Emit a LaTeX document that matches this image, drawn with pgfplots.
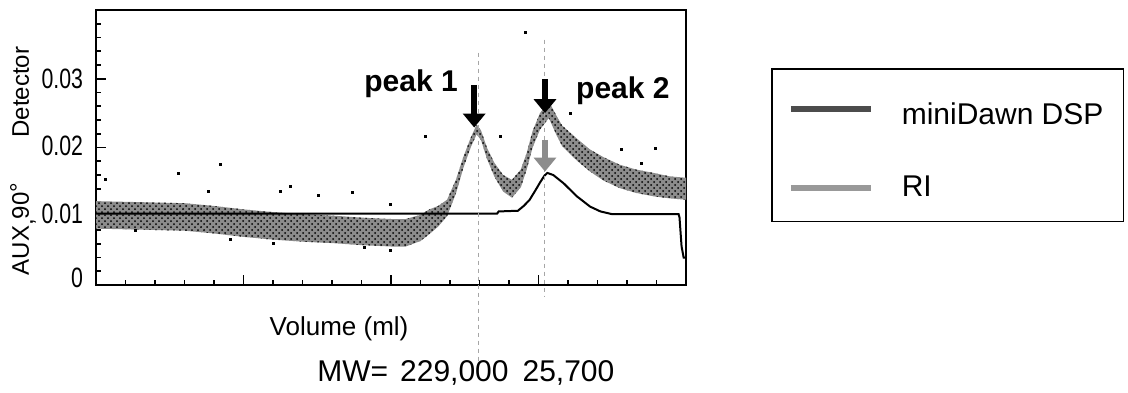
\documentclass[border=0pt]{standalone}
\usepackage{pgfplots}
\pgfplotsset{compat=1.18}
\usepackage{pgfplotstable}
\usepgfplotslibrary{fillbetween}
\usetikzlibrary{arrows.meta,patterns}
\usepackage{fontspec}
\setmainfont{Liberation Sans}
\newfontfamily\narrowfont[FakeStretch=0.76]{Liberation Sans}

% miniDawn DSP (90 degree light scattering): noise band envelope
\pgfplotstableread{
x lo hi
0 0.0082 0.0122
1 0.0081 0.0121
2 0.0080 0.0120
3 0.0079 0.0119
4 0.0075 0.0115
5 0.0070 0.0110
6 0.0066 0.0106
7 0.0063 0.0103
8 0.0061 0.0101
9 0.0058 0.0098
10 0.0056 0.0096
10.5 0.0056 0.0096
11 0.0064 0.0102
11.3 0.0074 0.0110
11.6 0.0085 0.0115
11.9 0.0100 0.0124
12.2 0.0133 0.0153
12.45 0.0170 0.0186
12.7 0.0200 0.0214
12.9 0.0219 0.0233
13.05 0.0211 0.0225
13.25 0.0184 0.0200
13.5 0.0158 0.0178
13.8 0.0136 0.0160
14.1 0.0127 0.0153
14.4 0.0142 0.0168
14.6 0.0168 0.0192
14.8 0.0200 0.0224
15.05 0.0226 0.0250
15.35 0.0243 0.0267
15.6 0.0219 0.0247
15.8 0.0202 0.0232
16.3 0.0181 0.0213
16.75 0.0165 0.0197
17.2 0.0152 0.0186
17.75 0.0141 0.0175
18.3 0.0134 0.0168
18.9 0.0129 0.0163
19.45 0.0126 0.0158
20 0.0124 0.0156
}\dawntable

% stray miniDawn points
\pgfplotstableread{
x y
0.31 0.0154
1.32 0.0080
2.79 0.0163
3.80 0.0136
4.20 0.0175
4.54 0.0066
6.00 0.0061
6.24 0.0136
6.58 0.0143
7.53 0.0131
8.70 0.0134
9.10 0.0055
9.97 0.0051
9.97 0.0117
11.15 0.0216
13.70 0.0216
14.54 0.0367
16.07 0.0250
17.82 0.0197
18.50 0.0177
18.95 0.0199
}\straytable

% RI detector
\pgfplotstableread{
x y
0 0.0104
13.60 0.0104
13.65 0.0107
14.30 0.0108
14.50 0.0115
14.70 0.0124
14.90 0.0138
15.05 0.0149
15.20 0.0159
15.30 0.0163
15.50 0.0160
15.85 0.0148
16.30 0.0129
16.75 0.0114
17.10 0.0107
17.50 0.0103
19.75 0.0103
19.78 0.0098
19.85 0.0056
19.92 0.0040
20 0.0040
}\ritable

\begin{document}
\begin{tikzpicture}
\begin{axis}[
  at={(0,0)}, anchor=south west,
  width=295pt, height=137.5pt, scale only axis,
  xmin=0, xmax=20, ymin=0, ymax=0.04,
  clip=false,
  scaled y ticks=false,
  axis line style={black, line width=1pt},
  tick pos=left, tick align=inside,
  major tick length=5pt, minor tick length=2.5pt,
  every tick/.style={black, line width=0.8pt},
  xtick={0,5,10,15,20}, minor x tick num=4, xticklabels={},
  ytick={0,0.01,0.02,0.03},
  minor ytick={0.002,0.004,0.006,0.008,0.012,0.014,0.016,0.018,0.022,0.024,0.026,0.028,0.032,0.034,0.036,0.038},
  yticklabels={\raisebox{7.5pt}{0},\raisebox{2.5pt}{0.01},\raisebox{1.5pt}{0.02},0.03},
  yticklabel style={font=\narrowfont\fontsize{14}{14}\selectfont, xshift=-3pt},
  ylabel={AUX\raisebox{-2pt}{,}90\raisebox{1pt}{°}\hspace{1.9em}Detector},
  ylabel style={at={(axis description cs:-0.1237,0.451)}, anchor=center, font=\fontsize{12}{13}\selectfont},
  legend image code/.code={\draw[#1] (0pt,0pt) -- (40pt,0pt);},
  legend cell align=left,
  legend style={at={(axis description cs:1.144,0.789)}, anchor=north west,
    draw=black, line width=0.8pt, font=\fontsize{15}{18}\selectfont,
    inner xsep=8pt, inner ysep=9pt, row sep=20pt,
    /tikz/every odd column/.append style={column sep=12pt}},
]
\addlegendimage{black!70, line width=3pt}
\addlegendentry{\rule{0pt}{17pt}miniDawn DSP}
\addlegendimage{black!40, line width=3pt}
\addlegendentry{RI}

\addplot[name path=dlo, draw=none, forget plot] table[x=x, y=lo] {\dawntable};
\addplot[name path=dhi, draw=none, forget plot] table[x=x, y=hi] {\dawntable};
\addplot[fill=black!45, draw=none, forget plot] fill between[of=dlo and dhi];
\addplot[pattern=crosshatch dots, pattern color=black, draw=none, forget plot] fill between[of=dlo and dhi];
\addplot[only marks, mark=square*, mark size=0.5pt, black, forget plot] table[x=x, y=y] {\straytable};

\addplot[black, line width=1pt, forget plot] table[x=x, y=y] {\ritable};

% peak markers
\draw[gray!70, line width=0.5pt, dash pattern=on 2pt off 2pt] (axis cs:12.98,0.0338) -- (axis cs:12.98,-0.0119);
\draw[gray!70, line width=0.5pt, dash pattern=on 2pt off 2pt] (axis cs:15.19,0.0357) -- (axis cs:15.19,-0.0017);
\draw[black, line width=3pt, -{Triangle[width=11pt,length=7pt]}] (axis cs:12.82,0.0291) -- (axis cs:12.82,0.0229);
\draw[black, line width=3pt, -{Triangle[width=11pt,length=7pt]}] (axis cs:15.22,0.0299) -- (axis cs:15.22,0.0250);
\draw[black!45, line width=3pt, -{Triangle[width=11pt,length=7pt]}] (axis cs:15.22,0.0211) -- (axis cs:15.22,0.0165);
\node[anchor=base, font=\bfseries\fontsize{15}{18}\selectfont] at (axis cs:10.68,0.0282) {peak 1};
\node[anchor=base, font=\bfseries\fontsize{15}{18}\selectfont] at (axis cs:17.86,0.0272) {peak 2};

\node[font=\fontsize{13}{15}\selectfont] at (axis cs:8.24,-0.0063) {Volume (ml)};
\node[anchor=base west, font=\fontsize{15}{17}\selectfont, inner sep=0pt] at (axis cs:7.49,-0.0140) {MW=\hspace{0.4em}229,000\hspace{7pt}25,700};
\end{axis}
\pgfresetboundingbox
\path[use as bounding box] (-48pt,-53.5pt) rectangle (516pt,142.5pt);
\end{tikzpicture}
\end{document}
